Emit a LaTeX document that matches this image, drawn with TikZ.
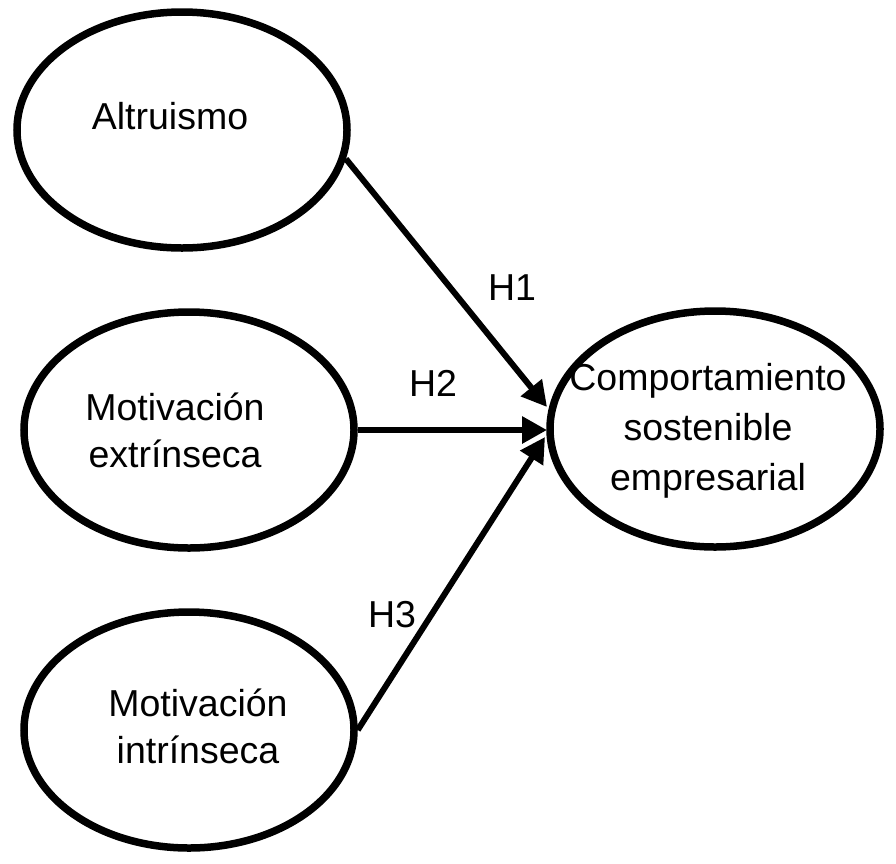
\documentclass[tikz,border=0pt]{standalone}
\usepackage{fontspec}
\setmainfont{Liberation Sans}
\usetikzlibrary{shapes.geometric,arrows.meta}
\begin{document}
\begin{tikzpicture}[x=1pt,y=-1pt,
  construct/.style={ellipse,draw=black,line width=7.5pt,minimum width=330pt,minimum height=236pt,inner sep=0pt},
  label text/.style={font=\fontsize{37.5}{47}\selectfont,align=center,inner sep=0pt},
  wide text/.style={font=\fontsize{37.5}{50}\selectfont,align=center,inner sep=0pt},
  hyp/.style={font=\fontsize{37.5}{47}\selectfont,inner sep=0pt},
  link/.style={line width=6pt,-{Triangle[length=25pt,width=26pt]}}]
\useasboundingbox (0,0) rectangle (896,863);
\node[construct] (e1) at (182,130) {};
\node[construct] (e2) at (189,430) {};
\node[construct] (e3) at (189,730) {};
\node[construct] (e4) at (715,429) {};
\node[label text] (t1) at (170,116.5) {Altruismo};
\node[label text] (t2) at (175,430) {Motivación\\extrínseca};
\node[label text] (t3) at (198,726) {Motivación\\intrínseca};
\node[wide text] (t4) at (708,431) {Comportamiento\\sostenible\\empresarial};
\coordinate (c1) at (547,407);
\coordinate (c2) at (547,430);
\coordinate (c3) at (545,437);
\draw[link] (e1.-10) -- (c1);
\draw[link] (e2.east) -- (c2);
\draw[link] (e3.east) -- (c3);
\node[hyp] (h1) at (512,288) {H1};
\node[hyp] (h2) at (433,383) {H2};
\node[hyp] (h3) at (392,615) {H3};
\end{tikzpicture}
\end{document}
